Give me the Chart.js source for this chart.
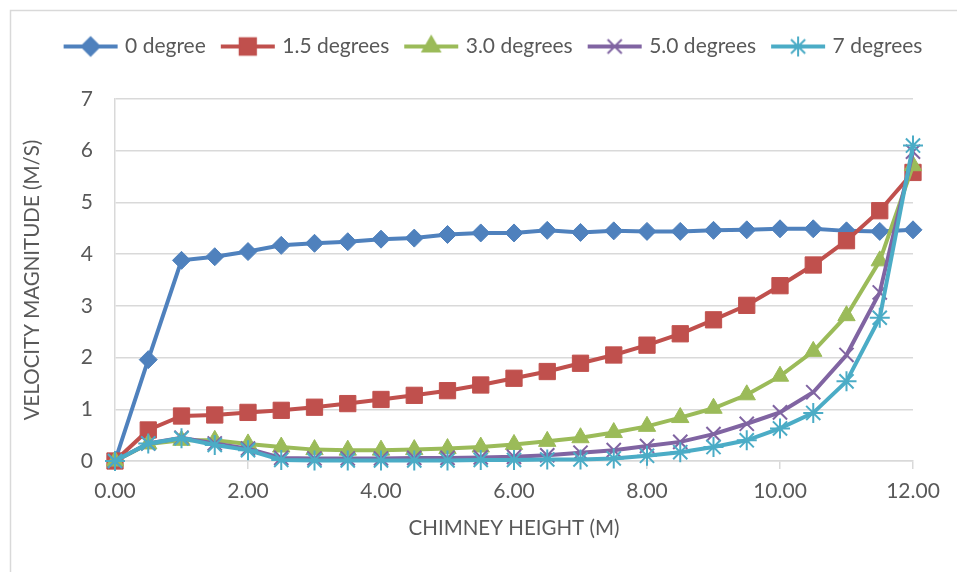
<!DOCTYPE html>
<html>
<head>
<meta charset="utf-8">
<title>Velocity magnitude vs chimney height</title>
<script src="https://cdn.jsdelivr.net/npm/chart.js@4.4.0/dist/chart.umd.min.js"></script>
<style>
    html, body { margin: 0; padding: 0; background: #fff; }
    #wrap { width: 957px; height: 572px; }
</style>
</head>
<body>
<div id="wrap"><canvas id="velChart" width="957" height="572"></canvas></div>
<script>
// Chimney height (m)
const heights = [0, 0.5, 1, 1.5, 2, 2.5, 3, 3.5, 4, 4.5, 5, 5.5, 6, 6.5, 7, 7.5, 8, 8.5, 9, 9.5, 10, 10.5, 11, 11.5, 12];

// Velocity magnitude (m/s) per inclination
const deg0   = [0, 1.96, 3.88, 3.95, 4.05, 4.17, 4.21, 4.24, 4.29, 4.31, 4.38, 4.41, 4.41, 4.46, 4.42, 4.45, 4.44, 4.44, 4.46, 4.47, 4.49, 4.49, 4.45, 4.44, 4.47];
const deg1_5 = [0, 0.60, 0.87, 0.89, 0.94, 0.98, 1.04, 1.11, 1.19, 1.27, 1.36, 1.47, 1.60, 1.73, 1.89, 2.05, 2.24, 2.46, 2.73, 3.01, 3.39, 3.79, 4.26, 4.84, 5.58];
const deg3_0 = [0, 0.33, 0.40, 0.40, 0.33, 0.27, 0.22, 0.21, 0.21, 0.22, 0.24, 0.27, 0.32, 0.38, 0.45, 0.55, 0.67, 0.84, 1.02, 1.28, 1.64, 2.12, 2.81, 3.87, 5.71];
const deg5_0 = [0, 0.34, 0.45, 0.34, 0.24, 0.06, 0.05, 0.05, 0.05, 0.06, 0.06, 0.07, 0.08, 0.11, 0.16, 0.21, 0.29, 0.37, 0.52, 0.72, 0.94, 1.33, 2.05, 3.26, 5.98];
const deg7   = [0, 0.34, 0.44, 0.31, 0.21, 0.02, 0.01, 0.01, 0.01, 0.01, 0.01, 0.02, 0.02, 0.03, 0.03, 0.05, 0.10, 0.17, 0.27, 0.40, 0.63, 0.93, 1.54, 2.77, 6.10];

const seriesLabels = ['0 degree', '1.5 degrees', '3.0 degrees', '5.0 degrees', '7 degrees'];
const seriesValues = [deg0, deg1_5, deg3_0, deg5_0, deg7];

// Styling
const colors  = ['#4F81BD', '#C0504D', '#9BBB59', '#8064A2', '#4BACC6'];
const markers = ['rectRot', 'rect', 'triangle', 'crossRot', 'star'];
const radii   = [9, 11.5, 10, 10, 10];
const textColor = '#595959';
const gridColor = '#D9D9D9';
const fontFamily = 'Lato, "Open Sans", sans-serif';

// small canvas with line + marker, used as legend symbol
function legendIcon(color, style, radius) {
    const c = document.createElement('canvas');
    c.width = 56;
    c.height = 26;
    const g = c.getContext('2d');
    g.strokeStyle = color;
    g.lineWidth = 4;
    g.beginPath();
    g.moveTo(1, 13);
    g.lineTo(55, 13);
    g.stroke();
    g.fillStyle = color;
    g.lineWidth = 2;
    if (Chart.helpers && Chart.helpers.drawPoint) {
        Chart.helpers.drawPoint(g, { pointStyle: style, radius: radius, rotation: 0, borderWidth: 2 }, 28, 13);
    }
    return c;
}

const icons = colors.map((c, i) => legendIcon(c, markers[i], radii[i]));

// extra room under the legend + nudge it right like the original
const legendSpacing = {
    id: 'legendSpacing',
    beforeInit(chart) {
        const origFit = chart.legend.fit;
        chart.legend.fit = function () {
            origFit.call(this);
            this.height += 32;
        };
    },
    afterLayout(chart) {
        chart.legend.left += 38;
        chart.legend.right += 38;
    }
};

// white background with the light outer frame
const frame = {
    id: 'frame',
    beforeDraw(chart) {
        const ctx = chart.ctx;
        ctx.save();
        ctx.fillStyle = '#fff';
        ctx.fillRect(0, 0, chart.width, chart.height);
        ctx.strokeStyle = gridColor;
        ctx.lineWidth = 1.5;
        ctx.strokeRect(10.5, 10.5, 1200, 1200);
        ctx.restore();
    }
};

const datasets = seriesValues.map((vals, i) => ({
    label: seriesLabels[i],
    data: heights.map((h, j) => ({ x: h, y: vals[j] })),
    borderColor: colors[i],
    backgroundColor: colors[i],
    borderWidth: 4,
    pointStyle: markers[i],
    pointRadius: radii[i],
    pointHoverRadius: radii[i],
    pointBackgroundColor: colors[i],
    pointBorderColor: colors[i],
    pointBorderWidth: (markers[i] === 'crossRot' || markers[i] === 'star') ? 2 : 1,
    tension: 0,
    clip: false,
    order: seriesValues.length - i
}));

const ctx = document.getElementById('velChart').getContext('2d');
new Chart(ctx, {
    type: 'line',
    data: { datasets: datasets },
    plugins: [legendSpacing, frame],
    options: {
        responsive: false,
        animation: false,
        layout: { padding: { top: 18, left: 0, right: 44, bottom: 0 } },
        plugins: {
            tooltip: { enabled: false },
            legend: {
                position: 'top',
                labels: {
                    usePointStyle: true,
                    pointStyleWidth: 48,
                    padding: 18,
                    color: textColor,
                    font: { family: fontFamily, size: 21 },
                    sort: (a, b) => a.datasetIndex - b.datasetIndex,
                    generateLabels: chart => chart.data.datasets.map((ds, i) => ({
                        text: ds.label,
                        pointStyle: icons[i],
                        fillStyle: ds.borderColor,
                        strokeStyle: ds.borderColor,
                        lineWidth: 0,
                        hidden: false,
                        datasetIndex: i,
                        fontColor: textColor
                    }))
                }
            }
        },
        scales: {
            x: {
                type: 'linear',
                min: 0,
                max: 12,
                afterFit: scale => { scale.height = 111; },
                ticks: {
                    stepSize: 2,
                    padding: 10,
                    color: textColor,
                    font: { family: fontFamily, size: 21 },
                    callback: v => v.toFixed(2)
                },
                grid: {
                    drawOnChartArea: false,
                    drawTicks: true,
                    tickLength: 8,
                    color: gridColor,
                    lineWidth: 1.5
                },
                border: { display: true, color: gridColor, width: 1.5 },
                title: {
                    display: true,
                    text: 'CHIMNEY HEIGHT (M)',
                    color: textColor,
                    font: { family: fontFamily, size: 20.5 },
                    padding: { top: 0, bottom: 31 }
                }
            },
            y: {
                min: 0,
                max: 7,
                afterFit: scale => { scale.width = 115; },
                ticks: {
                    stepSize: 1,
                    padding: 22,
                    color: textColor,
                    font: { family: fontFamily, size: 21 }
                },
                grid: {
                    drawTicks: false,
                    color: gridColor,
                    lineWidth: 1.5
                },
                border: { display: true, color: gridColor, width: 1.5 },
                title: {
                    display: true,
                    text: 'VELOCITY MAGNITUDE (M/S)',
                    color: textColor,
                    font: { family: fontFamily, size: 20.5 },
                    padding: { top: 20, bottom: 0 }
                }
            }
        }
    }
});
</script>
</body>
</html>
